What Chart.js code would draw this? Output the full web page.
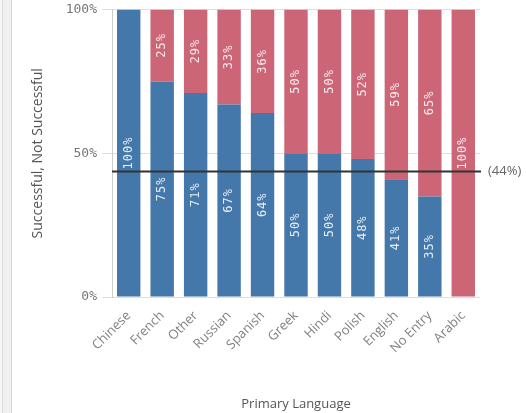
<!DOCTYPE html>
<html>
<head>
<meta charset="utf-8">
<script src="https://cdn.jsdelivr.net/npm/chart.js@4.4.0/dist/chart.umd.min.js"></script>
<style>
  html, body { margin: 0; padding: 0; background: #fff; }
  #wrap { position: relative; width: 526px; height: 413px; overflow: hidden; }
  .edge { position: absolute; top: 0; bottom: 0; left: 0; width: 2px; background: #f7f7f7; border-right: 1px solid #dcdcdc; }
  .rail { position: absolute; top: 0; bottom: 0; left: 3px; width: 8px; background: #f0f0f0; border-right: 1px solid #d6d6d6; }
  canvas { position: absolute; left: 0; top: 0; }
</style>
</head>
<body>
<div id="wrap">
  <div class="edge"></div>
  <div class="rail"></div>
  <canvas id="chart" width="526" height="413"></canvas>
</div>
<script>
const languages = ['Chinese', 'French', 'Other', 'Russian', 'Spanish', 'Greek', 'Hindi', 'Polish', 'English', 'No Entry', 'Arabic']
const successful = [100, 75, 71, 67, 64, 50, 50, 48, 41, 35, 0]
const notSuccessful = [0, 25, 29, 33, 36, 50, 50, 52, 59, 65, 100]
const yTicks = [0, 50, 100]
const average = 44

const monoFont = '"DejaVu Sans Mono", monospace'
const sansFont = '"Open Sans", sans-serif'

// percentage text inside each stacked segment, rotated to read upwards
const barLabels = {
  id: 'barLabels',
  afterDatasetsDraw(chart) {
    const ctx = chart.ctx
    ctx.save()
    ctx.font = '12px ' + monoFont
    ctx.letterSpacing = '1px'
    ctx.fillStyle = 'rgba(255,255,255,0.88)'
    ctx.textAlign = 'center'
    ctx.textBaseline = 'middle'
    chart.data.datasets.forEach((ds, i) => {
      chart.getDatasetMeta(i).data.forEach((bar, j) => {
        const v = ds.data[j]
        if (!v) return
        ctx.save()
        ctx.translate(bar.x, (bar.y + bar.base) / 2)
        ctx.rotate(-Math.PI / 2)
        ctx.fillText(v + '%', 0, 0)
        ctx.restore()
      })
    })
    ctx.restore()
  }
}

// overall success rate reference line
const averageLine = {
  id: 'averageLine',
  afterDatasetsDraw(chart) {
    const { ctx, chartArea, scales } = chart
    const y = scales.y.getPixelForValue(average)
    ctx.save()
    ctx.strokeStyle = '#333'
    ctx.lineWidth = 2
    ctx.beginPath()
    ctx.moveTo(chartArea.left, y + 1)
    ctx.lineTo(chartArea.right + 1, y + 1)
    ctx.stroke()
    ctx.fillStyle = '#666'
    ctx.font = '13px ' + sansFont
    ctx.textBaseline = 'middle'
    ctx.fillText('(' + average + '%)', chartArea.right + 8, y + 1)
    ctx.restore()
  }
}

const chart = new Chart(document.querySelector('#chart').getContext('2d'), {
  type: 'bar',
  data: {
    labels: languages,
    datasets: [{
      label: 'Successful',
      data: successful,
      backgroundColor: '#4477aa'
    }, {
      label: 'Not Successful',
      data: notSuccessful,
      backgroundColor: '#cc6677'
    }]
  },
  options: {
    responsive: false,
    animation: false,
    barPercentage: 0.7,
    categoryPercentage: 1,
    layout: { padding: { left: 20, right: 46, top: 9, bottom: 0 } },
    plugins: {
      legend: { display: false },
      tooltip: { enabled: false }
    },
    scales: {
      x: {
        stacked: true,
        grid: { display: false },
        border: { display: false },
        ticks: {
          minRotation: 45,
          maxRotation: 45,
          padding: 3,
          color: '#808080',
          font: { family: sansFont, size: 13 }
        },
        title: {
          display: true,
          text: 'Primary Language',
          color: '#555',
          font: { family: sansFont, size: 13 },
          padding: { top: 0, bottom: 1 }
        },
        afterFit: s => { s.height = 116 }
      },
      y: {
        stacked: true,
        min: 0,
        max: 100,
        afterBuildTicks: s => { s.ticks = yTicks.map(v => ({ value: v })) },
        grid: { color: '#dedede', tickLength: 10 },
        border: { color: '#cccccc' },
        ticks: {
          padding: 5,
          color: '#777',
          font: { family: monoFont, size: 13, lineHeight: 0.7 },
          callback: v => v + '%'
        },
        title: {
          display: true,
          text: 'Successful, Not Successful',
          color: '#555',
          font: { family: sansFont, size: 14 },
          padding: { top: 10, bottom: 0 }
        },
        afterFit: s => { s.width = 92 }
      }
    }
  },
  plugins: [barLabels, averageLine]
})
</script>
</body>
</html>
